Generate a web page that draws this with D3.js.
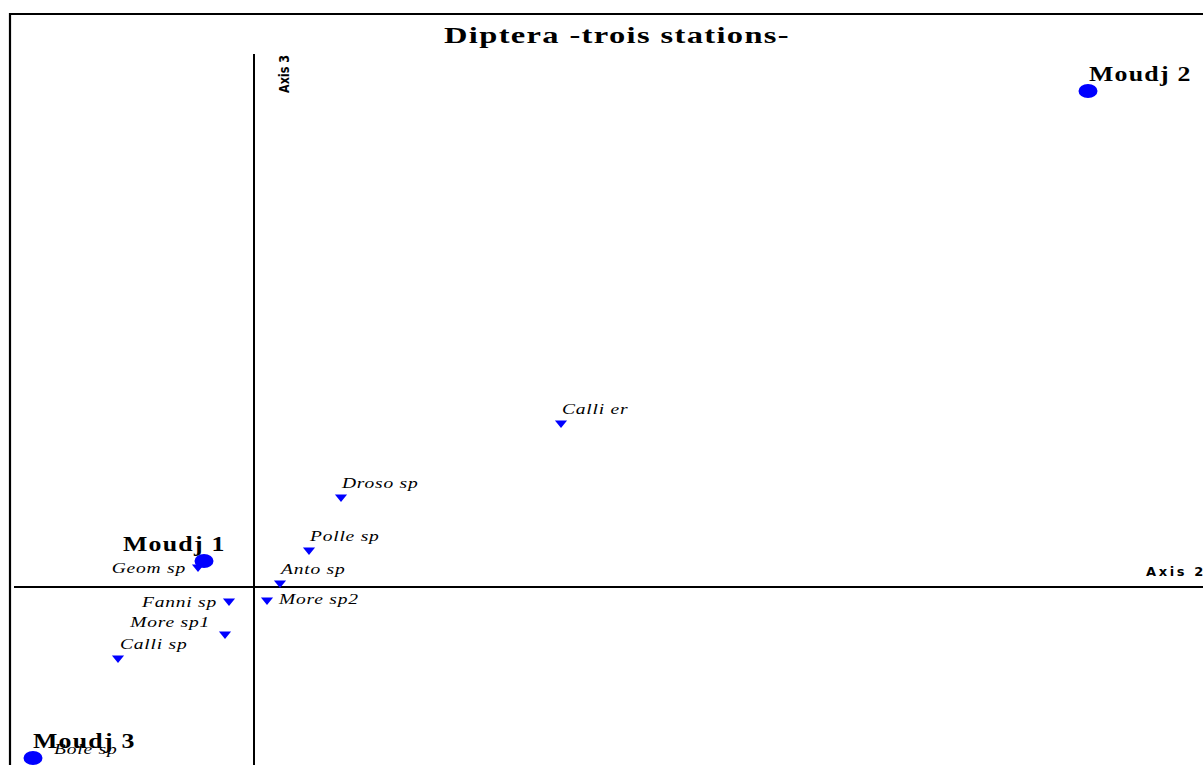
<!DOCTYPE html>
<html><head><meta charset="utf-8">
<script src="https://cdn.jsdelivr.net/npm/d3@7"></script>
<style>body{margin:0;background:#fff;overflow:hidden}</style>
</head><body>
<svg id="c" width="1203" height="765"></svg>
<script>
// Data (CA scores, Axis 2 vs Axis 3)
const stations = ["Moudj 1", "Moudj 2", "Moudj 3"];
const stationX = [-0.100, 1.668, -0.442];
const stationY = [0.052, 0.992, -0.342];

const species = ["Geom sp", "Fanni sp", "More sp1", "Calli sp", "Bole sp", "More sp2", "Anto sp", "Polle sp", "Droso sp", "Calli er"];
const speciesX = [-0.112, -0.050, -0.058, -0.272, -0.440, 0.026, 0.052, 0.110, 0.174, 0.614];
const speciesY = [0.040, -0.028, -0.094, -0.142, -0.340, -0.026, 0.008, 0.074, 0.180, 0.328];

// label placement (layout only)
const speciesLabelPos = ["left", "left", "upleft", "upright", "bole", "right", "up", "up", "up", "up"];
const stationLabelPos = ["left", "right", "over"];

const svg = d3.select("#c");
const W = 1203, H = 765;

const x = d3.scaleLinear().domain([-0.5, 1.9]).range([4, 1204]);
const y = d3.scaleLinear().domain([-0.4, 1.1]).range([787, 37]);

// horizontally stretched text, as in the original export
function stretch(sel, f) {
  sel.each(function () {
    const w = this.getComputedTextLength();
    d3.select(this).attr("textLength", w * f).attr("lengthAdjust", "spacingAndGlyphs");
  });
  return sel;
}

// frame
svg.append("path").attr("d", `M10,${H+5} L10,14 L${W+5},14`).attr("fill", "none").attr("stroke", "#000").attr("stroke-width", 2.2);

// axes
svg.append("line").attr("x1", x(0)).attr("x2", x(0)).attr("y1", 54).attr("y2", H + 5).attr("stroke", "#000").attr("stroke-width", 2);
svg.append("line").attr("x1", 14).attr("x2", W + 5).attr("y1", y(0)).attr("y2", y(0)).attr("stroke", "#000").attr("stroke-width", 2);

// title
svg.append("text").attr("x", 444).attr("y", 43).attr("textLength", 346).attr("lengthAdjust", "spacingAndGlyphs")
  .attr("font-family", "Liberation Serif, Times New Roman, serif").attr("font-weight", "bold")
  .attr("font-size", 24).attr("letter-spacing", 1).text("Diptera -trois stations-");

// axis titles
svg.append("text").attr("transform", `translate(${x(0) + 35},93) rotate(-90)`)
  .attr("font-family", "DejaVu Sans Condensed, DejaVu Sans, sans-serif").attr("font-weight", "bold")
  .attr("font-size", 14).attr("textLength", 38).attr("lengthAdjust", "spacingAndGlyphs").text("Axis 3");
svg.append("text").attr("x", 1146).attr("y", y(0) - 11)
  .attr("font-family", "DejaVu Sans, sans-serif").attr("font-weight", "bold")
  .attr("font-size", 13).attr("letter-spacing", 2.6).text("Axis 2");

// species markers
const tri = d3.symbol().type(d3.symbolTriangle).size(45);
const sp = svg.append("g");
species.forEach((name, i) => {
  const px = x(speciesX[i]), py = y(speciesY[i]);
  sp.append("path").attr("d", tri()).attr("transform", `translate(${px},${py}) rotate(180) scale(1.2,0.85)`).attr("fill", "#0000ff");
  const pos = speciesLabelPos[i];
  let tx = px, ty = py, anchor = "start";
  if (pos === "left") { tx = px - 12; ty = py + 6; anchor = "end"; }
  else if (pos === "upleft") { tx = px - 15; ty = py - 7; anchor = "end"; }
  else if (pos === "upright") { tx = px + 2; ty = py - 9; }
  else if (pos === "right") { tx = px + 12; ty = py + 4; }
  else if (pos === "bole") { tx = px + 20; ty = py - 3; }
  else if (pos === "up") { tx = px + 1; ty = py - 9; }
  const t = sp.append("text").attr("x", tx).attr("y", ty).attr("text-anchor", anchor)
    .attr("font-family", "Liberation Serif, Times New Roman, serif").attr("font-style", "italic")
    .attr("font-size", 15).attr("letter-spacing", 0.6).text(name);
  stretch(t, 1.3);
});

// stations
const st = svg.append("g");
stations.forEach((name, i) => {
  const px = x(stationX[i]), py = y(stationY[i]);
  st.append("ellipse").attr("cx", px).attr("cy", py).attr("rx", 9.5).attr("ry", 7).attr("fill", "#0000ff");
  const pos = stationLabelPos[i];
  const tx = pos === "left" ? px - 81 : pos === "right" ? px + 1 : px;
  const t = st.append("text").attr("x", tx).attr("y", py - 10)
    .attr("font-family", "Liberation Serif, Times New Roman, serif").attr("font-weight", "bold")
    .attr("font-size", 21).attr("letter-spacing", 1).text(name);
  stretch(t, 1.23);
});
</script>
</body></html>
